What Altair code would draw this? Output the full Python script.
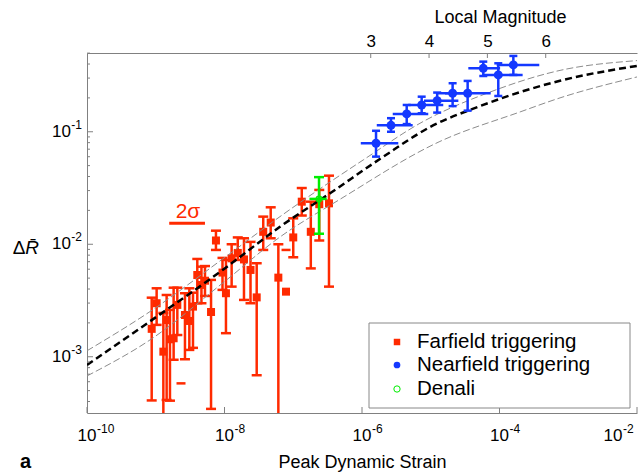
import altair as alt
import pandas as pd
import numpy as np

# ---------------- data ----------------
red_strain = [8.73e-10, 1.03e-9, 1.29e-9, 1.44e-9, 1.61e-9, 1.82e-9, 2.06e-9, 2.66e-9,
              3.08e-9, 3.48e-9, 4.02e-9, 4.62e-9, 5.2e-9, 6.37e-9, 7.51e-9, 9.35e-9,
              1.05e-8, 1.27e-8, 1.56e-8, 1.92e-8, 2.39e-8, 2.94e-8, 3.66e-8, 4.7e-8,
              6.07e-8, 7.85e-8, 1.0e-7, 1.33e-7, 1.8e-7, 2.39e-7, 3.31e-7]
red_R = [1.77e-3, 2.99e-3, 1.11e-3, 2.12e-3, 1.43e-3, 1.46e-3, 2.89e-3, 2.35e-3,
         2.08e-3, 2.79e-3, 5.33e-3, 4.35e-3, 4.74e-3, 2.5e-3, 1.08e-2, 5.6e-3,
         3.67e-3, 7.5e-3, 8.37e-3, 7.33e-3, 5.91e-3, 3.37e-3, 1.29e-2, 1.56e-2,
         5.05e-3, 3.79e-3, 1.15e-2, 2.39e-2, 1.29e-2, 2.27e-2, 2.31e-2]
red_hi = [3.35e-3, 4.06e-3, 2.45e-3, 3.54e-3, 2.61e-3, 4.11e-3, 4.11e-3, 3.67e-3,
          4.06e-3, 3.71e-3, 7.4e-3, 6.32e-3, 6.4e-3, 4.82e-3, 1.32e-2, 7.56e-3,
          7.25e-3, 1.0e-2, 1.15e-2, 1.13e-2, 1.05e-2, 6.78e-3, 1.76e-2, 2.13e-2,
          1.0e-2, None, 1.7e-2, 3.16e-2, 2.39e-2, 3.04e-2, 4.07e-2]
red_lo = [4.09e-4, 1.92e-3, 1e-4, 4.13e-4, 4.07e-4, 9.4e-4, 1.56e-3, 9.5e-4,
          1.15e-3, 1.2e-3, 2.99e-3, 2.99e-3, 3.47e-3, 3.44e-4, 8.9e-3, 3.93e-3,
          1.62e-3, 4.2e-3, 7.25e-3, 3.2e-3, 2.99e-3, 6.85e-4, 8.9e-3, 1.13e-2,
          1e-4, None, 7.66e-3, 1.8e-2, 6.1e-3, 1.08e-2, 4.2e-3]
# stray error-bar caps without a point
stray_strain = [7.85e-8, 2.33e-9]
stray_R = [8.9e-3, 5.8e-4]

blue_strain = [1.6e-6, 2.64e-6, 4.47e-6, 7.38e-6, 1.24e-5, 2.08e-5, 3.44e-5, 5.81e-5, 9.6e-5, 1.59e-4]
blue_R = [0.079, 0.114, 0.144, 0.173, 0.189, 0.22, 0.22, 0.366, 0.32, 0.393]
blue_hi = [0.102, 0.132, 0.173, 0.205, 0.223, 0.27, 0.283, 0.42, 0.406, 0.472]
blue_lo = [0.0601, 0.1, 0.117, 0.146, 0.148, 0.169, 0.154, 0.313, 0.208, 0.32]
blue_xlo = [9.6e-7, 1.64e-6, 2.8e-6, 4.71e-6, 7.98e-6, 1.26e-5, 1.61e-5, 3.52e-5, 5.81e-5, 9.1e-5]
blue_xhi = [3.37e-6, 5.46e-6, 9.2e-6, 1.52e-5, 2.52e-5, 3.52e-5, 7.45e-5, 1.02e-4, 2.17e-4, 3.79e-4]

green_strain = [2.37e-7]
green_R = [2.53e-2]
green_hi = [3.95e-2]
green_lo = [1.24e-2]
green_xlo = [1.72e-7]
green_xhi = [3.07e-7]

mid_strain = [1e-10, 5.9e-10, 9.84e-9, 6.41e-8, 3.43e-7, 2.02e-6, 9.75e-6, 5.2e-5, 7.59e-4, 1e-2]
mid_R = [8.45e-4, 1.79e-3, 6.03e-3, 1.43e-2, 2.84e-2, 5.97e-2, 0.110, 0.169, 0.284, 0.385]
up_strain = [1e-10, 8.24e-10, 9.84e-9, 6.41e-8, 1.04e-6, 7.7e-6, 6.57e-5, 7.59e-4, 1e-2]
up_R = [1.13e-3, 2.52e-3, 7.55e-3, 1.76e-2, 5.61e-2, 0.123, 0.22, 0.351, 0.429]
low_strain = [1e-10, 8.24e-10, 9.84e-9, 6.41e-8, 4.79e-7, 1.36e-5, 1.99e-4, 7.59e-4, 1e-2]
low_R = [6.75e-4, 1.41e-3, 4.62e-3, 1.16e-2, 2.51e-2, 8.2e-2, 0.15, 0.2, 0.307]

sigma_strain = [1.57e-9, 5.2e-9]
sigma_R = 1.54e-2
sigma_text_strain = 2.94e-9
sigma_text_R = 1.71e-2

groups = ['Farfield triggering', 'Nearfield triggering', 'Denali']
x_tick_vals = [1e-10, 1e-8, 1e-6, 1e-4, 1e-2]
x_tick_exps = ['-10', '-8', '-6', '-4', '-2']
y_tick_vals = [1e-3, 1e-2, 1e-1]
y_tick_exps = ['-3', '-2', '-1']
mag_ticks = [3, 4, 5, 6]
mag_domain = [-1.864, 7.565]

# ---------------- styling ----------------
W, H = 550, 360
RED = '#ff2a00'
BLUE = '#1438ff'
GREEN = '#00ee00'
GRAY = '#808080'
FONT = 'Liberation Sans'

xscale = alt.Scale(type='log', domain=[1e-10, 1e-2], nice=False)
yscale = alt.Scale(type='log', domain=[10 ** -3.5, 10 ** -0.3], nice=False)
xaxis = alt.Axis(values=x_tick_vals, labels=False, title='Peak Dynamic Strain',
                 titleFontSize=18, titlePadding=40, ticks=False, grid=False)
yaxis = alt.Axis(values=y_tick_vals, labels=False, title=None, ticks=False, grid=False)

def X(f='strain'):
    return alt.X(f'{f}:Q', scale=xscale, axis=xaxis)

def Y(f='R'):
    return alt.Y(f'{f}:Q', scale=yscale, axis=yaxis)

red_df = pd.DataFrame(dict(strain=red_strain, R=red_R, hi=red_hi, lo=red_lo))
blue_df = pd.DataFrame(dict(strain=blue_strain, R=blue_R, hi=blue_hi, lo=blue_lo,
                            xlo=blue_xlo, xhi=blue_xhi))
green_df = pd.DataFrame(dict(strain=green_strain, R=green_R, hi=green_hi, lo=green_lo,
                             xlo=green_xlo, xhi=green_xhi))
stray_df = pd.DataFrame(dict(strain=stray_strain, R=stray_R))

curve_df = pd.concat([
    pd.DataFrame(dict(strain=mid_strain, R=mid_R, c='mid')),
    pd.DataFrame(dict(strain=up_strain, R=up_R, c='up')),
    pd.DataFrame(dict(strain=low_strain, R=low_R, c='low')),
], ignore_index=True)

def vbars(df, color, cap):
    bars = alt.Chart(df).mark_rule(color=color, strokeWidth=2.5, clip=True).encode(
        x=X(), y=Y('lo'), y2='hi:Q')
    caps_hi = alt.Chart(df).mark_tick(color=color, orient='horizontal', size=cap, thickness=2.5,
                                      opacity=1, clip=True).encode(x=X(), y=Y('hi'))
    caps_lo = alt.Chart(df).mark_tick(color=color, orient='horizontal', size=cap, thickness=2.5,
                                      opacity=1, clip=True).encode(x=X(), y=Y('lo'))
    return [bars, caps_hi, caps_lo]

def hbars(df, color):
    return alt.Chart(df).mark_rule(color=color, strokeWidth=2.5, clip=True).encode(
        x=X('xlo'), x2='xhi:Q', y=Y('R'))

red_pts = alt.Chart(red_df).mark_point(shape='square', filled=True, color=RED, size=64,
                                       opacity=1).encode(x=X(), y=Y())
blue_pts = alt.Chart(blue_df).mark_point(shape='circle', filled=True, color=BLUE, size=81,
                                         opacity=1).encode(x=X(), y=Y())
green_pts = alt.Chart(green_df).mark_point(shape='circle', filled=False, color=GREEN, size=30,
                                           strokeWidth=1.5, opacity=1).encode(x=X(), y=Y())

stray = alt.Chart(stray_df).mark_tick(color=RED, orient='horizontal', size=9, thickness=2.5,
                                       opacity=1).encode(x=X(), y=Y())

curve_mid = alt.Chart(curve_df).transform_filter("datum.c == 'mid'").mark_line(
    color='black', strokeWidth=2.5, strokeDash=[7, 4], interpolate='monotone', clip=True).encode(x=X(), y=Y())
curve_up = alt.Chart(curve_df).transform_filter("datum.c == 'up'").mark_line(
    color='#8c8c8c', strokeWidth=1, strokeDash=[7, 3], interpolate='monotone', clip=True).encode(x=X(), y=Y())
curve_low = alt.Chart(curve_df).transform_filter("datum.c == 'low'").mark_line(
    color='#8c8c8c', strokeWidth=1, strokeDash=[7, 3], interpolate='monotone', clip=True).encode(x=X(), y=Y())

sig_df = pd.DataFrame(dict(strain=[sigma_strain[0]], strain2=[sigma_strain[1]], R=[sigma_R]))
sig_bar = alt.Chart(sig_df).mark_rule(color=RED, strokeWidth=3).encode(x=X(), x2='strain2:Q', y=Y())
sig_txt = alt.Chart(pd.DataFrame(dict(strain=[sigma_text_strain], R=[sigma_text_R], t=['2σ']))).mark_text(
    color=RED, fontSize=21, font=FONT, align='center', baseline='alphabetic').encode(x=X(), y=Y(), text='t:N')

# inward axis ticks
major_y = y_tick_vals
minor_y = [m * 10.0 ** e for e in range(-4, 0) for m in range(2, 10)
           if 10 ** -3.5 <= m * 10.0 ** e <= 10 ** -0.3]
yt_major = alt.Chart(pd.DataFrame(dict(yt=major_y))).mark_rule(color=GRAY).encode(
    y=Y('yt'), x=alt.value(0), x2=alt.value(6))
yt_minor = alt.Chart(pd.DataFrame(dict(yt=minor_y))).mark_rule(color=GRAY).encode(
    y=Y('yt'), x=alt.value(0), x2=alt.value(3))
xt = alt.Chart(pd.DataFrame(dict(strain=x_tick_vals))).mark_rule(color=GRAY).encode(
    x=X(), y=alt.value(H), y2=alt.value(H - 6))

# tick labels as "10" + superscript exponent
xlab_df = pd.DataFrame(dict(strain=x_tick_vals, base='10', exp=x_tick_exps))
xlab_in, xlab_last = xlab_df.iloc[:-1], xlab_df.iloc[-1:]
XL_Y = 383
def xlabels(df, shift):
    b = alt.Chart(df).mark_text(font=FONT, fontSize=17, align='center', baseline='middle',
                                dx=shift).encode(x=X(), y=alt.value(XL_Y), text='base:N')
    e = alt.Chart(df).mark_text(font=FONT, fontSize=12, align='left', baseline='middle',
                                dx=shift + 10).encode(x=X(), y=alt.value(XL_Y - 7), text='exp:N')
    return [b, e]
ylab_df = pd.DataFrame(dict(yt=y_tick_vals, base='10', exp=y_tick_exps))
ylab_b = alt.Chart(ylab_df).mark_text(font=FONT, fontSize=17, align='right', baseline='middle').encode(
    y=Y('yt'), x=alt.value(-16), text='base:N')
ylab_e = alt.Chart(ylab_df).mark_text(font=FONT, fontSize=12, align='right', baseline='middle',
                                      dy=-7).encode(y=Y('yt'), x=alt.value(-5), text='exp:N')

def text_at(t, x, y, **kw):
    return alt.Chart(pd.DataFrame(dict(t=[t]))).mark_text(font=FONT, **kw).encode(
        text='t:N', x=alt.value(x), y=alt.value(y))

# y-axis title: upright Delta, italic R with bar
ytitle_d = text_at('Δ', -68, 195, fontSize=19, align='center', baseline='middle')
ytitle_r = text_at('R̄', -55, 195, fontSize=19, fontStyle='italic', align='center', baseline='middle')
panel = text_at('a', -67, 409, fontWeight='bold', fontSize=20, align='left', baseline='middle')

# legend box (drawn with marks)
LX0, LX1, LY0, LY1 = 282, 543, 270, 355
leg_rows = [289, 312, 336]
leg_box = alt.Chart(pd.DataFrame(dict(t=[0]))).mark_rect(
    fill='white', stroke='#888888', strokeWidth=1).encode(
    x=alt.value(LX0), x2=alt.value(LX1), y=alt.value(LY0), y2=alt.value(LY1))
leg_sym = [
    alt.Chart(pd.DataFrame(dict(t=[0]))).mark_point(shape='square', filled=True, color=RED, size=42,
                                                    opacity=1).encode(x=alt.value(310), y=alt.value(leg_rows[0])),
    alt.Chart(pd.DataFrame(dict(t=[0]))).mark_point(shape='circle', filled=True, color=BLUE, size=45,
                                                    opacity=1).encode(x=alt.value(310), y=alt.value(leg_rows[1])),
    alt.Chart(pd.DataFrame(dict(t=[0]))).mark_point(shape='circle', filled=False, color=GREEN, size=40,
                                                    strokeWidth=1, opacity=1).encode(x=alt.value(310), y=alt.value(leg_rows[2])),
]
leg_txt = [text_at(g, 330, r, fontSize=20.5, align='left', baseline='middle')
           for g, r in zip(groups, leg_rows)]

main = alt.layer(
    *vbars(red_df, RED, 10), stray, red_pts,
    curve_up, curve_low, curve_mid,
    hbars(blue_df, BLUE), *vbars(blue_df, BLUE, 8), blue_pts,
    hbars(green_df, GREEN), *vbars(green_df, GREEN, 10), green_pts,
    sig_bar, sig_txt, yt_major, yt_minor, xt,
    *xlabels(xlab_in, 0), *xlabels(xlab_last, -24), ylab_b, ylab_e,
    ytitle_d, ytitle_r, panel,
    leg_box, *leg_sym, *leg_txt,
)

top = alt.Chart(pd.DataFrame(dict(mag=mag_ticks))).mark_rule(color=GRAY).encode(
    x=alt.X('mag:Q', scale=alt.Scale(domain=mag_domain, nice=False, zero=False),
            axis=alt.Axis(orient='top', values=mag_ticks, title='Local Magnitude', ticks=False,
                          labelFontSize=17, labelPadding=3, titleFontSize=18, titleX=413,
                          titleY=-36, titleAlign='center', titleBaseline='middle', grid=False)),
    y=alt.value(0), y2=alt.value(5))

chart = alt.layer(main, top).resolve_scale(x='independent').properties(
    width=W, height=H,
    padding={'left': 87, 'top': 53, 'right': 6, 'bottom': 63},
    autosize=alt.AutoSizeParams(type='none'),
).configure_view(stroke=None).configure_axis(
    labelFont=FONT, titleFont=FONT, labelColor='black', titleColor='black',
    titleFontWeight='normal', domainColor=GRAY, domainWidth=1,
)

chart.save('out.html', embed_options={'renderer': 'svg', 'actions': False})
